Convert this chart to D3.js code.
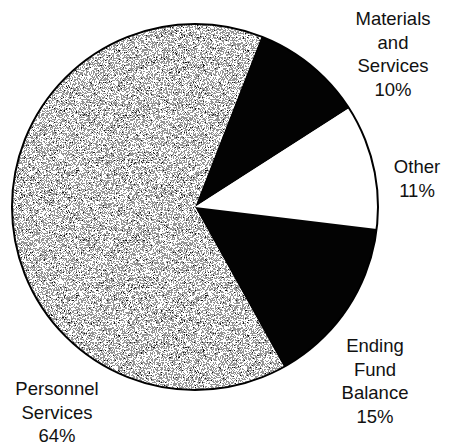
<!DOCTYPE html>
<html>
<head>
<meta charset="utf-8">
<script src="https://cdn.jsdelivr.net/npm/d3@7"></script>
<style>
  body { margin: 0; background: #fff; }
  svg { display: block; }
  .lbl { font-family: "Liberation Sans", Arial, sans-serif; font-size: 18.5px; fill: #111; }
</style>
</head>
<body>
<svg id="chart" width="449" height="445"></svg>
<script>
// slices, clockwise from the top-right
var categories = ["Materials and Services", "Other", "Ending Fund Balance", "Personnel Services"];
var values = [10, 11, 15, 64];
var labelLines = [["Materials", "and", "Services", "10%"], ["Other", "11%"], ["Ending", "Fund", "Balance", "15%"], ["Personnel", "Services", "64%"]];
var fills = ["url(#dark)", "#ffffff", "url(#dark)", "url(#grain)"];

// label anchor (centre x, first baseline y)
var labelAt = [[393, 25], [417, 173], [375, 352], [57, 395]];

var cx = 195, cy = 207, radius = 183;
var lineH = 23.5;
var W = 449, H = 445;

var svg = d3.select("#chart");
var defs = svg.append("defs");

function noiseFilter(id, seed, freq, cut) {
  var f = defs.append("filter").attr("id", id)
      .attr("filterUnits", "userSpaceOnUse")
      .attr("x", 0).attr("y", 0).attr("width", W).attr("height", H);
  f.append("feTurbulence").attr("type", "fractalNoise")
    .attr("baseFrequency", freq).attr("numOctaves", 1).attr("seed", seed).attr("result", "n");
  f.append("feColorMatrix").attr("type", "matrix")
    .attr("values", cut.color + "  1 0 0 0 0");
  var ct = f.append("feComponentTransfer");
  ct.append("feFuncA").attr("type", "discrete").attr("tableValues", cut.table);
  return f;
}
noiseFilter("noiseG", 3, 1.6, {color: "0 0 0 0 1  0 0 0 0 1  0 0 0 0 1", table: "0 0 0 0 0 1 1 1 1 1"});
noiseFilter("noiseG2", 11, 1.6, {color: "0 0 0 0 0  0 0 0 0 0  0 0 0 0 0", table: "0 0 0 0 0 0 0 0.9 1 1"});
noiseFilter("noiseD", 7, 1.8, {color: "0 0 0 0 1  0 0 0 0 1  0 0 0 0 1", table: "0 0 0 0 0 0 0 0 0 0 0 0 0 0 0.5 1"});

// stippled gray, like the scanned print
var grain = defs.append("pattern")
    .attr("id", "grain")
    .attr("patternUnits", "userSpaceOnUse")
    .attr("width", W).attr("height", H);
grain.append("rect").attr("width", W).attr("height", H).attr("fill", "#959595");
grain.append("rect").attr("width", W).attr("height", H).attr("filter", "url(#noiseG)");
grain.append("rect").attr("width", W).attr("height", H).attr("filter", "url(#noiseG2)");

var dark = defs.append("pattern")
    .attr("id", "dark")
    .attr("patternUnits", "userSpaceOnUse")
    .attr("width", W).attr("height", H);
dark.append("rect").attr("width", W).attr("height", H).attr("fill", "#030303");
dark.append("rect").attr("width", W).attr("height", H).attr("filter", "url(#noiseD)");

var pie = d3.pie()
    .sort(null)
    .startAngle(21.3 * Math.PI / 180)
    .endAngle(21.3 * Math.PI / 180 + 2 * Math.PI);

var arc = d3.arc().innerRadius(0).outerRadius(radius);

var g = svg.append("g").attr("transform", "translate(" + cx + "," + cy + ")");

g.selectAll("path.slice")
  .data(pie(values))
  .enter()
  .append("path")
  .attr("class", "slice")
  .attr("d", arc)
  .attr("fill", function(d, i) { return fills[i]; })
  .attr("stroke", "none");

// outer rim
g.append("circle")
  .attr("r", radius)
  .attr("fill", "none")
  .attr("stroke", "#000")
  .attr("stroke-width", 2);

// labels
var labels = svg.selectAll("text.lbl")
  .data(labelLines)
  .enter()
  .append("text")
  .attr("class", "lbl")
  .attr("text-anchor", "middle")
  .attr("x", function(d, i) { return labelAt[i][0]; })
  .attr("y", function(d, i) { return labelAt[i][1]; });

labels.selectAll("tspan")
  .data(function(d, i) { return d.map(function(t) { return {t: t, i: i}; }); })
  .enter()
  .append("tspan")
  .attr("x", function(d) { return labelAt[d.i][0]; })
  .attr("dy", function(d, j) { return j === 0 ? 0 : lineH; })
  .text(function(d) { return d.t; });
</script>
</body>
</html>
